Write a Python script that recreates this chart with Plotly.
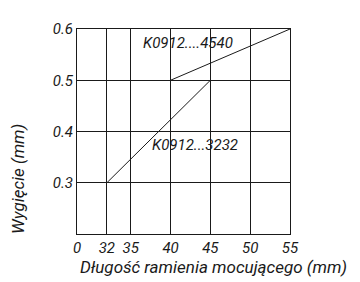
import plotly.graph_objects as go

# Data
x_axis_origin = 28.25          # position of the "0" label (broken axis)
x_tick_vals = [x_axis_origin, 32, 35, 40, 45, 50, 55]
x_tick_text = ["0", "32", "35", "40", "45", "50", "55"]
y_tick_vals = [0.3, 0.4, 0.5, 0.6]
y_tick_text = ["0.3", "0.4", "0.5", "0.6"]

series_3232_x = [32, 45]
series_3232_y = [0.3, 0.5]
series_4540_x = [40, 55]
series_4540_y = [0.5, 0.6]

label_3232 = "K0912...3232"
label_4540 = "K0912....4540"

FONT = "Roboto, Liberation Sans, sans-serif"
INK = "#1a1a1a"

fig = go.Figure()
fig.add_trace(go.Scatter(x=series_3232_x, y=series_3232_y, mode="lines",
                         line=dict(color=INK, width=1), name=label_3232, showlegend=False))
fig.add_trace(go.Scatter(x=series_4540_x, y=series_4540_y, mode="lines",
                         line=dict(color=INK, width=1), name=label_4540, showlegend=False))

fig.add_annotation(x=42.25, y=0.572, text=label_4540, showarrow=False,
                   xanchor="center", yanchor="middle",
                   font=dict(family=FONT, size=15, color=INK, style="italic"))
fig.add_annotation(x=43.1, y=0.374, text=label_3232, showarrow=False,
                   xanchor="center", yanchor="middle",
                   font=dict(family=FONT, size=15, color=INK, style="italic"))

# axis titles as annotations (positioned like the reference)
fig.add_annotation(xref="paper", yref="paper", x=(18 - 77) / 213, y=(234 - 177) / 212,
                   xanchor="center", yanchor="middle",
                   text="Wygięcie (mm)", textangle=-90, showarrow=False,
                   font=dict(family=FONT, size=17, color=INK, style="italic"))
fig.add_annotation(xref="paper", yref="paper", x=(213 - 77) / 213, y=(234 - 268) / 212,
                   xanchor="center", yanchor="middle",
                   text="Długość ramienia mocującego (mm)", showarrow=False,
                   font=dict(family=FONT, size=17, color=INK, style="italic"))

fig.update_xaxes(range=[x_axis_origin, 55], tickvals=x_tick_vals, ticktext=x_tick_text,
                 showgrid=True, gridcolor=INK, gridwidth=1, showline=True, linecolor=INK,
                 linewidth=1, mirror=True, zeroline=False, ticks="",
                 tickfont=dict(family=FONT, size=15, color=INK, style="italic"))
fig.update_yaxes(range=[0.2, 0.6], tickvals=y_tick_vals, ticktext=y_tick_text,
                 showgrid=True, gridcolor=INK, gridwidth=1, showline=True, linecolor=INK,
                 linewidth=1, mirror=True, zeroline=False, ticks="",
                 tickfont=dict(family=FONT, size=15, color=INK, style="italic"))

# page body adds an 8px offset, so the figure is drawn 8px up/left of the reference grid
fig.update_layout(width=352, height=274, margin=dict(l=69, r=70, t=14, b=48),
                  plot_bgcolor="white", paper_bgcolor="white", showlegend=False)

fig.write_html("out.html")
